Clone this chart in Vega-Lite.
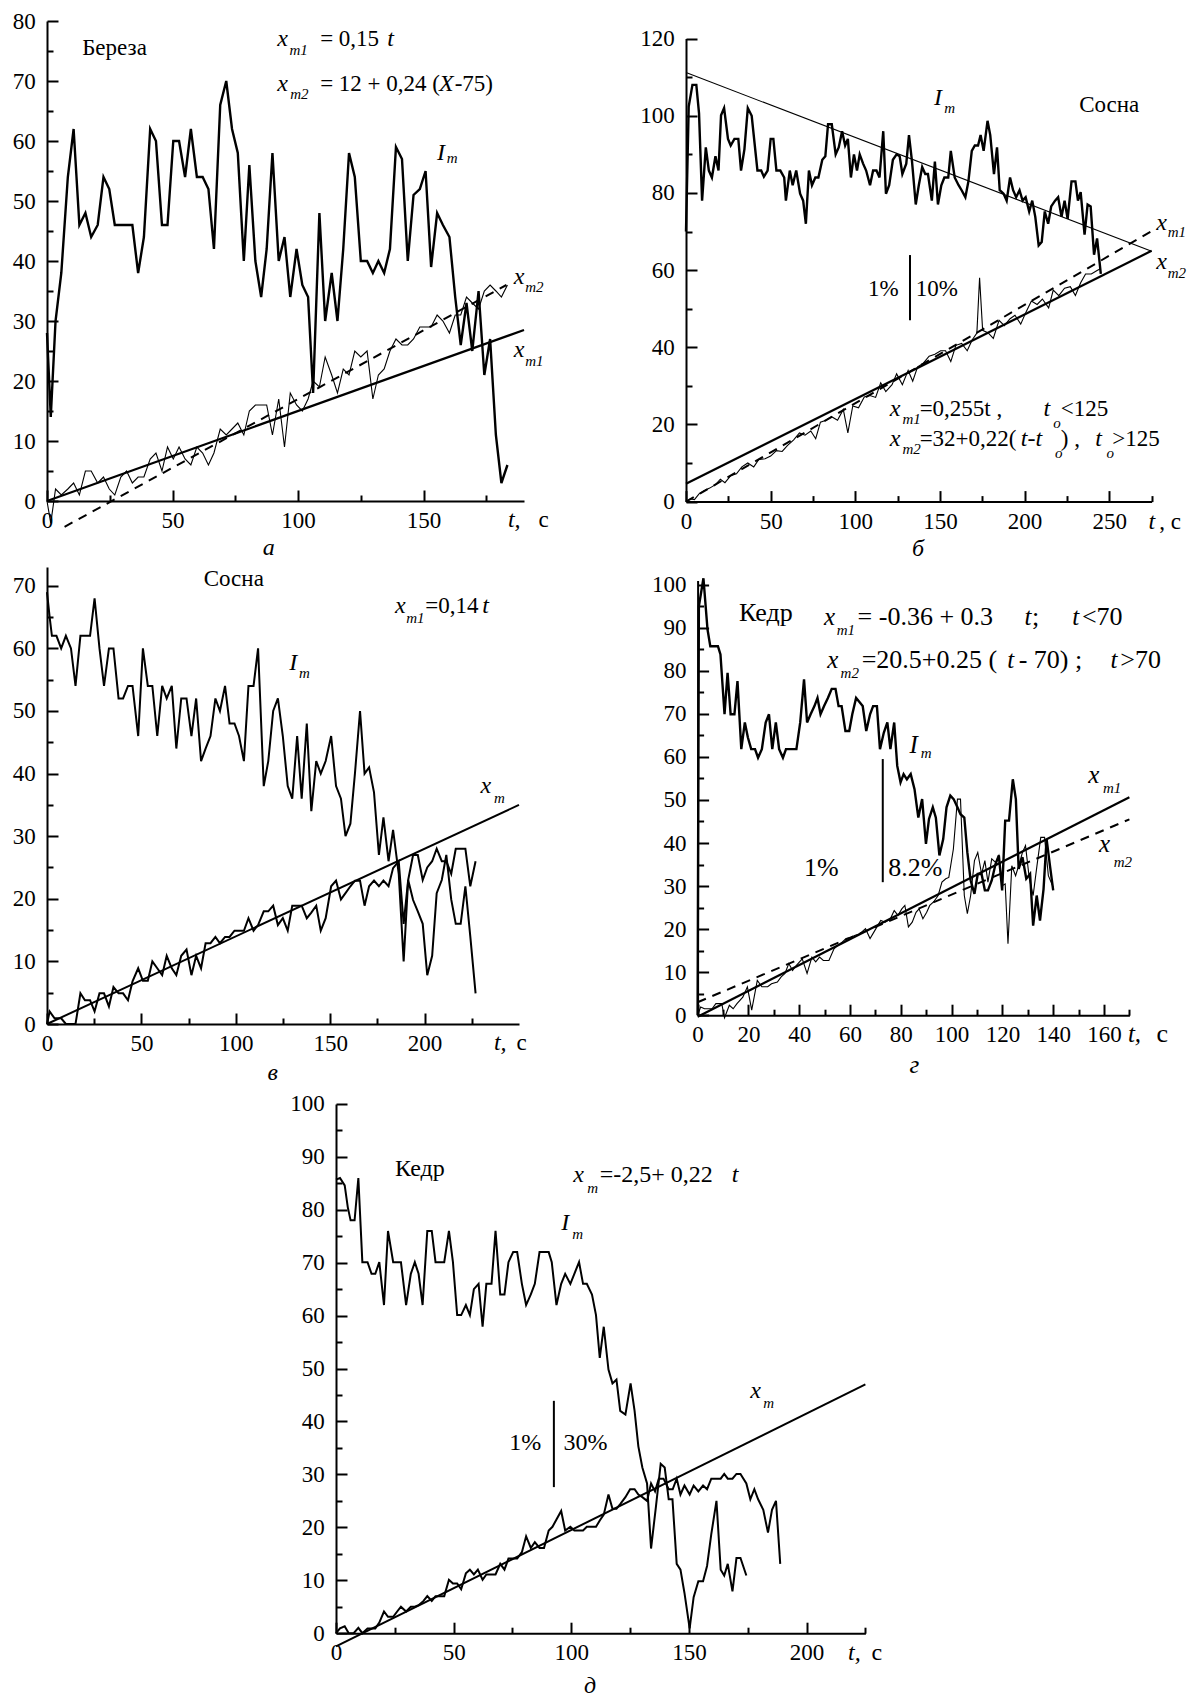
{
"$schema": "https://vega.github.io/schema/vega-lite/v6.json",
"padding": {"left": 12, "top": 10, "right": 5, "bottom": 5},
"config": {
  "view": {"stroke": null},
  "axis": {"domainColor": "black", "domainWidth": 2, "tickColor": "black", "tickWidth": 2, "tickSize": -11, "labelFont": "Liberation Serif", "labelFontSize": 23, "labelColor": "black", "grid": false, "labelFlush": false, "labelOverlap": false, "labelBound": false},
  "axisX": {"labelPadding": 19.6},
  "axisY": {"labelPadding": 22.7},
  "line": {"stroke": "black"},
  "rule": {"stroke": "black"}
},
"columns": 2,
"align": {"row": "each", "column": "none"},
"bounds": "flush",
"spacing": {"row": 65, "column": 0},
"concat": [
{
 "width": 639, "height": 480,
 "resolve": {"axis": {"x": "independent", "y": "independent"}},
 "layer": [
  {"data": {"name": "aI"}, "mark": {"type": "line", "strokeWidth": 2.4},
   "encoding": {"x": {"field": "t", "type": "quantitative", "scale": {"domain": [0, 190], "range": [0, 477], "nice": false, "zero": false}, "axis": {"orient": "bottom", "values": [0, 50, 100, 150], "title": null}},
                "y": {"field": "v", "type": "quantitative", "scale": {"domain": [0, 80], "nice": false, "zero": false}, "axis": {"orient": "left", "values": [0, 10, 20, 30, 40, 50, 60, 70, 80], "title": null}}}},
  {"data": {"name": "aF1"}, "mark": {"type": "line", "strokeWidth": 2.2},
   "encoding": {"x": {"field": "t", "type": "quantitative", "axis": {"orient": "bottom", "values": [25, 75, 125, 175], "labels": false, "domain": false, "tickSize": -6, "title": null}},
                "y": {"field": "v", "type": "quantitative", "axis": {"orient": "left", "values": [5, 15, 25, 35, 45, 55, 65, 75], "labels": false, "domain": false, "tickSize": -6, "title": null}}}},
  {"data": {"name": "aF2"}, "mark": {"type": "line", "strokeWidth": 2, "strokeDash": [9, 7]},
   "encoding": {"x": {"field": "t", "type": "quantitative", "axis": null}, "y": {"field": "v", "type": "quantitative", "axis": null}}},
  {"data": {"name": "aX"}, "mark": {"type": "line", "strokeWidth": 1.1},
   "encoding": {"x": {"field": "t", "type": "quantitative", "axis": null}, "y": {"field": "v", "type": "quantitative", "axis": null}}},
  {"data": {"name": "aTR"}, "mark": {"type": "text", "align": "left", "baseline": "alphabetic", "font": "Liberation Serif", "fontSize": 23, "color": "black"},
   "encoding": {"x": {"field": "t", "type": "quantitative", "axis": null}, "y": {"field": "v", "type": "quantitative", "axis": null}, "text": {"field": "s"}}},
  {"data": {"name": "aTI"}, "mark": {"type": "text", "align": "left", "baseline": "alphabetic", "font": "Liberation Serif", "fontSize": 24, "fontStyle": "italic", "color": "black"},
   "encoding": {"x": {"field": "t", "type": "quantitative", "axis": null}, "y": {"field": "v", "type": "quantitative", "axis": null}, "text": {"field": "s"}}},
  {"data": {"name": "aTS"}, "mark": {"type": "text", "align": "left", "baseline": "alphabetic", "font": "Liberation Serif", "fontSize": 15, "fontStyle": "italic", "color": "black"},
   "encoding": {"x": {"field": "t", "type": "quantitative", "axis": null}, "y": {"field": "v", "type": "quantitative", "axis": null}, "text": {"field": "s"}}}
 ]
},
{
 "width": 465.6, "height": 480.6,
 "resolve": {"axis": {"x": "independent", "y": "independent"}},
 "layer": [
  {"data": {"name": "bI"}, "mark": {"type": "line", "strokeWidth": 2.4},
   "encoding": {"x": {"field": "t", "type": "quantitative", "scale": {"domain": [0, 275], "nice": false, "zero": false}, "axis": {"orient": "bottom", "values": [0, 50, 100, 150, 200, 250], "title": null}},
                "y": {"field": "v", "type": "quantitative", "scale": {"domain": [0, 120], "range": [480.6, 17.6], "nice": false, "zero": false}, "axis": {"orient": "left", "values": [0, 20, 40, 60, 80, 100, 120], "title": null}}}},
  {"data": {"name": "bF2"}, "mark": {"type": "line", "strokeWidth": 2.2},
   "encoding": {"x": {"field": "t", "type": "quantitative", "axis": {"orient": "bottom", "values": [25, 75, 125, 175, 225, 275], "labels": false, "domain": false, "tickSize": -6, "title": null}},
                "y": {"field": "v", "type": "quantitative", "axis": {"orient": "left", "values": [10, 30, 50, 70, 90, 110], "labels": false, "domain": false, "tickSize": -6, "title": null}}}},
  {"data": {"name": "bF1"}, "mark": {"type": "line", "strokeWidth": 2, "strokeDash": [9, 7]},
   "encoding": {"x": {"field": "t", "type": "quantitative", "axis": null}, "y": {"field": "v", "type": "quantitative", "axis": null}}},
  {"data": {"name": "bTr"}, "mark": {"type": "line", "strokeWidth": 1.1},
   "encoding": {"x": {"field": "t", "type": "quantitative", "axis": null}, "y": {"field": "v", "type": "quantitative", "axis": null}}},
  {"data": {"name": "bX"}, "mark": {"type": "line", "strokeWidth": 1.1},
   "encoding": {"x": {"field": "t", "type": "quantitative", "axis": null}, "y": {"field": "v", "type": "quantitative", "axis": null}}},
  {"data": {"name": "bBar"}, "mark": {"type": "rule", "strokeWidth": 2},
   "encoding": {"x": {"field": "t", "type": "quantitative", "axis": null}, "y": {"field": "v", "type": "quantitative", "axis": null}, "y2": {"field": "v2"}}},
  {"data": {"name": "bTR"}, "mark": {"type": "text", "align": "left", "baseline": "alphabetic", "font": "Liberation Serif", "fontSize": 23, "color": "black"},
   "encoding": {"x": {"field": "t", "type": "quantitative", "axis": null}, "y": {"field": "v", "type": "quantitative", "axis": null}, "text": {"field": "s"}}},
  {"data": {"name": "bTI"}, "mark": {"type": "text", "align": "left", "baseline": "alphabetic", "font": "Liberation Serif", "fontSize": 24, "fontStyle": "italic", "color": "black"},
   "encoding": {"x": {"field": "t", "type": "quantitative", "axis": null}, "y": {"field": "v", "type": "quantitative", "axis": null}, "text": {"field": "s"}}},
  {"data": {"name": "bTS"}, "mark": {"type": "text", "align": "left", "baseline": "alphabetic", "font": "Liberation Serif", "fontSize": 15, "fontStyle": "italic", "color": "black"},
   "encoding": {"x": {"field": "t", "type": "quantitative", "axis": null}, "y": {"field": "v", "type": "quantitative", "axis": null}, "text": {"field": "s"}}}
 ]
},
{
 "width": 639, "height": 457,
 "resolve": {"axis": {"x": "independent", "y": "independent"}},
 "layer": [
  {"data": {"name": "cI"}, "mark": {"type": "line", "strokeWidth": 2},
   "encoding": {"x": {"field": "t", "type": "quantitative", "scale": {"domain": [0, 250], "range": [0, 472], "nice": false, "zero": false}, "axis": {"orient": "bottom", "values": [0, 50, 100, 150, 200], "title": null}},
                "y": {"field": "v", "type": "quantitative", "scale": {"domain": [0, 73], "nice": false, "zero": false}, "axis": {"orient": "left", "values": [0, 10, 20, 30, 40, 50, 60, 70], "title": null}}}},
  {"data": {"name": "cF"}, "mark": {"type": "line", "strokeWidth": 2},
   "encoding": {"x": {"field": "t", "type": "quantitative", "axis": {"orient": "bottom", "values": [25, 75, 125, 175, 225], "labels": false, "domain": false, "tickSize": -6, "title": null}},
                "y": {"field": "v", "type": "quantitative", "axis": {"orient": "left", "values": [5, 15, 25, 35, 45, 55, 65], "labels": false, "domain": false, "tickSize": -6, "title": null}}}},
  {"data": {"name": "cX"}, "mark": {"type": "line", "strokeWidth": 2},
   "encoding": {"x": {"field": "t", "type": "quantitative", "axis": null}, "y": {"field": "v", "type": "quantitative", "axis": null}}},
  {"data": {"name": "cTR"}, "mark": {"type": "text", "align": "left", "baseline": "alphabetic", "font": "Liberation Serif", "fontSize": 23, "color": "black"},
   "encoding": {"x": {"field": "t", "type": "quantitative", "axis": null}, "y": {"field": "v", "type": "quantitative", "axis": null}, "text": {"field": "s"}}},
  {"data": {"name": "cTI"}, "mark": {"type": "text", "align": "left", "baseline": "alphabetic", "font": "Liberation Serif", "fontSize": 24, "fontStyle": "italic", "color": "black"},
   "encoding": {"x": {"field": "t", "type": "quantitative", "axis": null}, "y": {"field": "v", "type": "quantitative", "axis": null}, "text": {"field": "s"}}},
  {"data": {"name": "cTS"}, "mark": {"type": "text", "align": "left", "baseline": "alphabetic", "font": "Liberation Serif", "fontSize": 15, "fontStyle": "italic", "color": "black"},
   "encoding": {"x": {"field": "t", "type": "quantitative", "axis": null}, "y": {"field": "v", "type": "quantitative", "axis": null}, "text": {"field": "s"}}}
 ]
},
{
 "width": 443.4, "height": 448.2,
 "resolve": {"axis": {"x": "independent", "y": "independent"}},
 "layer": [
  {"data": {"name": "dI"}, "mark": {"type": "line", "strokeWidth": 2.4},
   "encoding": {"x": {"field": "t", "type": "quantitative", "scale": {"domain": [0, 170], "range": [11.6, 443.4], "nice": false, "zero": false}, "axis": {"orient": "bottom", "values": [0, 20, 40, 60, 80, 100, 120, 140, 160], "title": null}},
                "y": {"field": "v", "type": "quantitative", "scale": {"domain": [0, 101], "range": [448.2, 13.4], "nice": false, "zero": false}, "axis": {"orient": "left", "offset": -11.6, "values": [0, 10, 20, 30, 40, 50, 60, 70, 80, 90, 100], "title": null}}}},
  {"data": {"name": "dF1"}, "mark": {"type": "line", "strokeWidth": 2.2},
   "encoding": {"x": {"field": "t", "type": "quantitative", "axis": {"orient": "bottom", "values": [10, 30, 50, 70, 90, 110, 130, 150, 170], "labels": false, "domain": false, "tickSize": -6, "title": null}},
                "y": {"field": "v", "type": "quantitative", "axis": {"orient": "left", "offset": -11.6, "values": [5, 15, 25, 35, 45, 55, 65, 75, 85, 95], "labels": false, "domain": false, "tickSize": -6, "title": null}}}},
  {"data": {"name": "dF2"}, "mark": {"type": "line", "strokeWidth": 2, "strokeDash": [9, 7]},
   "encoding": {"x": {"field": "t", "type": "quantitative", "axis": null}, "y": {"field": "v", "type": "quantitative", "axis": null}}},
  {"data": {"name": "dX"}, "mark": {"type": "line", "strokeWidth": 1.1},
   "encoding": {"x": {"field": "t", "type": "quantitative", "axis": null}, "y": {"field": "v", "type": "quantitative", "axis": null}}},
  {"data": {"name": "dBar"}, "mark": {"type": "rule", "strokeWidth": 2},
   "encoding": {"x": {"field": "t", "type": "quantitative", "axis": null}, "y": {"field": "v", "type": "quantitative", "axis": null}, "y2": {"field": "v2"}}},
  {"data": {"name": "dTR"}, "mark": {"type": "text", "align": "left", "baseline": "alphabetic", "font": "Liberation Serif", "fontSize": 26, "color": "black"},
   "encoding": {"x": {"field": "t", "type": "quantitative", "axis": null}, "y": {"field": "v", "type": "quantitative", "axis": null}, "text": {"field": "s"}}},
  {"data": {"name": "dTI"}, "mark": {"type": "text", "align": "left", "baseline": "alphabetic", "font": "Liberation Serif", "fontSize": 25, "fontStyle": "italic", "color": "black"},
   "encoding": {"x": {"field": "t", "type": "quantitative", "axis": null}, "y": {"field": "v", "type": "quantitative", "axis": null}, "text": {"field": "s"}}},
  {"data": {"name": "dTS"}, "mark": {"type": "text", "align": "left", "baseline": "alphabetic", "font": "Liberation Serif", "fontSize": 15, "fontStyle": "italic", "color": "black"},
   "encoding": {"x": {"field": "t", "type": "quantitative", "axis": null}, "y": {"field": "v", "type": "quantitative", "axis": null}, "text": {"field": "s"}}}
 ]
},
{
 "width": 639, "height": 544.2,
 "resolve": {"axis": {"x": "independent", "y": "independent"}},
 "layer": [
  {"data": {"name": "eI"}, "mark": {"type": "line", "strokeWidth": 2},
   "encoding": {"x": {"field": "t", "type": "quantitative", "scale": {"domain": [0, 225], "range": [289, 818.4], "nice": false, "zero": false}, "axis": {"orient": "bottom", "values": [0, 50, 100, 150, 200], "title": null}},
                "y": {"field": "v", "type": "quantitative", "scale": {"domain": [0, 100], "range": [544.2, 14.9], "nice": false, "zero": false}, "axis": {"orient": "left", "offset": -289, "values": [0, 10, 20, 30, 40, 50, 60, 70, 80, 90, 100], "title": null}}}},
  {"data": {"name": "eF"}, "mark": {"type": "line", "strokeWidth": 2},
   "encoding": {"x": {"field": "t", "type": "quantitative", "axis": {"orient": "bottom", "values": [25, 75, 125, 175, 225], "labels": false, "domain": false, "tickSize": -6, "title": null}},
                "y": {"field": "v", "type": "quantitative", "axis": {"orient": "left", "offset": -289, "values": [5, 15, 25, 35, 45, 55, 65, 75, 85, 95], "labels": false, "domain": false, "tickSize": -6, "title": null}}}},
  {"data": {"name": "eX"}, "mark": {"type": "line", "strokeWidth": 2},
   "encoding": {"x": {"field": "t", "type": "quantitative", "axis": null}, "y": {"field": "v", "type": "quantitative", "axis": null}}},
  {"data": {"name": "eBar"}, "mark": {"type": "rule", "strokeWidth": 2},
   "encoding": {"x": {"field": "t", "type": "quantitative", "axis": null}, "y": {"field": "v", "type": "quantitative", "axis": null}, "y2": {"field": "v2"}}},
  {"data": {"name": "eTR"}, "mark": {"type": "text", "align": "left", "baseline": "alphabetic", "font": "Liberation Serif", "fontSize": 24, "color": "black"},
   "encoding": {"x": {"field": "t", "type": "quantitative", "axis": null}, "y": {"field": "v", "type": "quantitative", "axis": null}, "text": {"field": "s"}}},
  {"data": {"name": "eTI"}, "mark": {"type": "text", "align": "left", "baseline": "alphabetic", "font": "Liberation Serif", "fontSize": 24, "fontStyle": "italic", "color": "black"},
   "encoding": {"x": {"field": "t", "type": "quantitative", "axis": null}, "y": {"field": "v", "type": "quantitative", "axis": null}, "text": {"field": "s"}}},
  {"data": {"name": "eTS"}, "mark": {"type": "text", "align": "left", "baseline": "alphabetic", "font": "Liberation Serif", "fontSize": 15, "fontStyle": "italic", "color": "black"},
   "encoding": {"x": {"field": "t", "type": "quantitative", "axis": null}, "y": {"field": "v", "type": "quantitative", "axis": null}, "text": {"field": "s"}}}
 ]
}
],
"datasets": {
"aI": [{"t":0,"v":28},{"t":1.5,"v":14},{"t":3.4,"v":30},{"t":5.7,"v":38},{"t":8.3,"v":54},{"t":10.6,"v":62},{"t":12.9,"v":46},{"t":15.3,"v":48},{"t":17.6,"v":44},{"t":20.2,"v":46},{"t":22.5,"v":54},{"t":24.8,"v":52},{"t":27,"v":46},{"t":34,"v":46},{"t":36.3,"v":38},{"t":38.6,"v":44},{"t":41.1,"v":62},{"t":43.4,"v":60},{"t":45.8,"v":46},{"t":48,"v":46},{"t":50.3,"v":60},{"t":52.6,"v":60},{"t":55,"v":54},{"t":57.3,"v":62},{"t":59.7,"v":54},{"t":62,"v":54},{"t":64.3,"v":52},{"t":66.5,"v":42},{"t":69,"v":66},{"t":71.4,"v":70},{"t":73.7,"v":62},{"t":76,"v":58},{"t":78.4,"v":40},{"t":80.6,"v":56},{"t":83,"v":40},{"t":85.3,"v":34},{"t":87.5,"v":42},{"t":89.8,"v":58},{"t":92.3,"v":40},{"t":94.6,"v":44},{"t":96.9,"v":34},{"t":99.4,"v":42},{"t":101.7,"v":36},{"t":104,"v":34},{"t":106,"v":18},{"t":108.5,"v":48},{"t":110.8,"v":30},{"t":113.4,"v":38},{"t":115.7,"v":30},{"t":118,"v":42},{"t":120.3,"v":58},{"t":122.6,"v":54},{"t":125,"v":40},{"t":127.5,"v":40},{"t":129.8,"v":38},{"t":132,"v":40},{"t":134.3,"v":38},{"t":136.6,"v":42},{"t":139,"v":59},{"t":141.4,"v":57},{"t":143.7,"v":40},{"t":146,"v":51},{"t":148.5,"v":52},{"t":150.8,"v":55},{"t":153,"v":39},{"t":155.4,"v":48},{"t":157.7,"v":46},{"t":160.3,"v":44},{"t":162.6,"v":34},{"t":164.8,"v":26},{"t":167.1,"v":33},{"t":169.4,"v":25},{"t":171.9,"v":35},{"t":174.2,"v":21},{"t":176.5,"v":27},{"t":178.8,"v":11},{"t":181,"v":3},{"t":183.4,"v":6}],
"aX": [{"t":0,"v":0},{"t":1.5,"v":-3.7},{"t":3.4,"v":2},{"t":5.7,"v":1},{"t":8.3,"v":2},{"t":10.6,"v":3},{"t":12.9,"v":1},{"t":15.3,"v":5},{"t":17.6,"v":5},{"t":20.2,"v":3},{"t":22.5,"v":4},{"t":24.8,"v":2},{"t":27,"v":1},{"t":29.4,"v":4},{"t":31.7,"v":5},{"t":34,"v":3},{"t":36.3,"v":4},{"t":38.6,"v":4},{"t":41.1,"v":7},{"t":43.4,"v":8},{"t":45.8,"v":5},{"t":48,"v":9},{"t":50.3,"v":7},{"t":52.6,"v":9},{"t":55,"v":7},{"t":57.3,"v":6},{"t":59.7,"v":9},{"t":62,"v":8},{"t":64.3,"v":6},{"t":66.5,"v":8},{"t":69,"v":12},{"t":71.4,"v":11},{"t":73.7,"v":12},{"t":76,"v":13},{"t":78.4,"v":11},{"t":80.6,"v":15},{"t":83,"v":16},{"t":85.3,"v":16},{"t":87.5,"v":16},{"t":89.8,"v":11},{"t":92.3,"v":17},{"t":94.6,"v":9},{"t":96.9,"v":18},{"t":99.4,"v":16},{"t":101.7,"v":15},{"t":104,"v":17},{"t":106,"v":20},{"t":108.5,"v":19},{"t":110.8,"v":24},{"t":113.4,"v":21},{"t":115.7,"v":18},{"t":118,"v":22},{"t":120.3,"v":21},{"t":122.6,"v":25},{"t":125,"v":24},{"t":127.5,"v":25},{"t":129.8,"v":17},{"t":132,"v":21},{"t":134.3,"v":22},{"t":136.6,"v":25},{"t":139,"v":27},{"t":141.4,"v":26},{"t":143.7,"v":26},{"t":146,"v":27},{"t":148.5,"v":29},{"t":150.8,"v":29},{"t":153,"v":29},{"t":155.4,"v":31},{"t":157.7,"v":30},{"t":160.3,"v":28},{"t":162.6,"v":31},{"t":164.8,"v":31},{"t":167.1,"v":34},{"t":169.4,"v":33},{"t":171.9,"v":32},{"t":174.2,"v":35},{"t":176.5,"v":36},{"t":178.8,"v":35},{"t":181,"v":34},{"t":183.4,"v":36}],
"aF1": [{"t":0,"v":0},{"t":190,"v":28.5}],
"aF2": [{"t":7,"v":-4.3},{"t":183,"v":36}],
"aTR": [{"t":14,"v":74.3,"s":"Береза"},{"t":108.8,"v":75.8,"s":"= 0,15"},{"t":108.8,"v":68.4,"s":"= 12 + 0,24 ("},{"t":162.4,"v":68.4,"s":"-75)"},{"t":195.8,"v":-4.3,"s":"с"}],
"aTI": [{"t":91.7,"v":75.8,"s":"x"},{"t":135.5,"v":75.8,"s":"t"},{"t":91.7,"v":68.4,"s":"x"},{"t":156.1,"v":68.4,"s":"X"},{"t":155.3,"v":56.8,"s":"I"},{"t":185.9,"v":36.2,"s":"x"},{"t":185.9,"v":24,"s":"x"},{"t":183.6,"v":-4.3,"s":"t,"},{"t":85.9,"v":-9.05,"s":"а"}],
"aTS": [{"t":96.6,"v":74.4,"s":"m1"},{"t":96.9,"v":67,"s":"m2"},{"t":159.2,"v":56.3,"s":"m"},{"t":190.5,"v":34.8,"s":"m2"},{"t":190.5,"v":22.5,"s":"m1"}],
"bI": [{"t":0,"v":70},{"t":1.6,"v":102.4},{"t":3.8,"v":108},{"t":6.1,"v":108},{"t":7.7,"v":100.6},{"t":9.5,"v":78},{"t":11.7,"v":91.8},{"t":13.5,"v":85.8},{"t":15.3,"v":84},{"t":17.4,"v":89.5},{"t":19.2,"v":85.8},{"t":20.7,"v":100.1},{"t":22.5,"v":102},{"t":24.8,"v":94},{"t":26.4,"v":92.3},{"t":28.6,"v":94},{"t":30.9,"v":94},{"t":32.5,"v":85.8},{"t":34.5,"v":91.3},{"t":36.5,"v":102},{"t":38.8,"v":100},{"t":42.2,"v":85.8},{"t":44.4,"v":85.8},{"t":46,"v":84.2},{"t":48.2,"v":85.8},{"t":50,"v":94},{"t":51.6,"v":94},{"t":53.4,"v":85.8},{"t":55.7,"v":85.8},{"t":58,"v":84},{"t":59,"v":78},{"t":61.3,"v":85.8},{"t":63,"v":82},{"t":65.1,"v":85.8},{"t":67.4,"v":79.8},{"t":69.2,"v":78},{"t":70.8,"v":72},{"t":72.6,"v":85.8},{"t":74.4,"v":82},{"t":76.4,"v":84},{"t":78.2,"v":84},{"t":80.5,"v":88.6},{"t":82.3,"v":89.5},{"t":83.9,"v":97.8},{"t":86.1,"v":97.8},{"t":88.4,"v":90},{"t":90.2,"v":91.8},{"t":92.2,"v":96},{"t":94,"v":92.3},{"t":95.6,"v":94},{"t":97.4,"v":84},{"t":99.2,"v":90},{"t":101,"v":85.8},{"t":102.6,"v":90},{"t":104.6,"v":87.6},{"t":106.4,"v":85.8},{"t":108.7,"v":82},{"t":110.5,"v":85.8},{"t":112.5,"v":85.8},{"t":114.3,"v":84},{"t":116.5,"v":96},{"t":118.1,"v":79.8},{"t":120,"v":82},{"t":122.2,"v":88.6},{"t":124.4,"v":90},{"t":126.2,"v":89.5},{"t":127.8,"v":84.9},{"t":130.1,"v":87.6},{"t":131.7,"v":95},{"t":133.5,"v":88.1},{"t":135.7,"v":77},{"t":137.5,"v":82},{"t":139.5,"v":86.7},{"t":141.3,"v":84.9},{"t":142.9,"v":84.9},{"t":145.2,"v":78},{"t":147,"v":88.1},{"t":148.8,"v":77},{"t":150.8,"v":82},{"t":152.6,"v":84},{"t":154.9,"v":84},{"t":156.4,"v":90.9},{"t":158.7,"v":84},{"t":161,"v":82},{"t":162.8,"v":80.7},{"t":165,"v":78.9},{"t":166.8,"v":83},{"t":168.8,"v":90.9},{"t":170.6,"v":92.3},{"t":172.5,"v":92.3},{"t":174,"v":95},{"t":175.8,"v":90.9},{"t":178.1,"v":98.7},{"t":179.7,"v":95},{"t":181.9,"v":84.9},{"t":183.7,"v":91.8},{"t":185.3,"v":80.7},{"t":187.6,"v":79.8},{"t":189.4,"v":78},{"t":191.4,"v":84},{"t":193.2,"v":80.7},{"t":195,"v":78.9},{"t":197,"v":80.7},{"t":198.8,"v":78},{"t":200.6,"v":78.9},{"t":202.7,"v":75.2},{"t":204.5,"v":78},{"t":206.3,"v":73.8},{"t":208.3,"v":66.4},{"t":210.1,"v":67.3},{"t":211.9,"v":75.2},{"t":213.9,"v":72},{"t":215.7,"v":76.5},{"t":218,"v":78},{"t":219.8,"v":78.9},{"t":221.8,"v":73.8},{"t":223.6,"v":78},{"t":225.4,"v":73.3},{"t":227.7,"v":83},{"t":230,"v":83},{"t":231.5,"v":78},{"t":233.1,"v":80.2},{"t":235.4,"v":69.2},{"t":237.2,"v":77},{"t":239,"v":76.5},{"t":241,"v":64},{"t":242.8,"v":68.2},{"t":245,"v":59}],
"bX": [{"t":0,"v":0},{"t":2.7,"v":0.7},{"t":5,"v":0.5},{"t":7.7,"v":2},{"t":10.6,"v":2.8},{"t":14,"v":3.5},{"t":17.4,"v":4.4},{"t":20.3,"v":5.8},{"t":23,"v":4.9},{"t":26.4,"v":6.7},{"t":29.8,"v":7.2},{"t":33,"v":9},{"t":36.5,"v":10},{"t":40,"v":9},{"t":43,"v":10.9},{"t":46.7,"v":11.1},{"t":50,"v":11.8},{"t":53.4,"v":13.2},{"t":56.8,"v":13},{"t":60,"v":14.6},{"t":63.6,"v":16},{"t":67,"v":17.8},{"t":70.3,"v":17.2},{"t":73.7,"v":18.3},{"t":76.6,"v":16.3},{"t":79.4,"v":20.6},{"t":82.7,"v":21.1},{"t":86,"v":22},{"t":89.5,"v":21.1},{"t":92.9,"v":23.9},{"t":95.6,"v":17.8},{"t":98.5,"v":24.8},{"t":101.9,"v":24.3},{"t":105.3,"v":27.1},{"t":108.7,"v":27.5},{"t":112,"v":27},{"t":115,"v":30.8},{"t":118,"v":28.5},{"t":121.7,"v":30.3},{"t":124.4,"v":33.1},{"t":127.8,"v":30.3},{"t":131.2,"v":34},{"t":133.9,"v":31.2},{"t":136.8,"v":34.9},{"t":140.2,"v":35.9},{"t":143.6,"v":37.7},{"t":147,"v":38.2},{"t":150.4,"v":39.1},{"t":153.3,"v":39.1},{"t":156.4,"v":36.3},{"t":159.4,"v":40.5},{"t":162.8,"v":41},{"t":166.1,"v":39.1},{"t":169,"v":41.9},{"t":171.8,"v":43.7},{"t":173.4,"v":58},{"t":175.2,"v":44.4},{"t":178.5,"v":43.7},{"t":181.5,"v":42.3},{"t":184.9,"v":47},{"t":188,"v":45.6},{"t":191.4,"v":47.4},{"t":194.3,"v":48.3},{"t":197.7,"v":46},{"t":201,"v":49.3},{"t":204,"v":52},{"t":207.4,"v":51.1},{"t":210.5,"v":52.5},{"t":214.2,"v":50.2},{"t":216.9,"v":54.8},{"t":220.2,"v":53.4},{"t":223.6,"v":55.3},{"t":227,"v":55.7},{"t":230,"v":53.4},{"t":233.1,"v":56.7},{"t":236,"v":59},{"t":239.4,"v":59},{"t":242.8,"v":59.9},{"t":245,"v":60.4}],
"bF1": [{"t":0,"v":0},{"t":275,"v":70.1}],
"bF2": [{"t":0,"v":4.6},{"t":275,"v":65}],
"bTr": [{"t":0,"v":111.2},{"t":275,"v":64.9}],
"bBar": [{"t":132.3,"v":47,"v2":63.9}],
"bTR": [{"t":232.2,"v":101,"s":"Сосна"},{"t":107.5,"v":53.4,"s":"1%"},{"t":135.7,"v":53.4,"s":"10%"},{"t":138,"v":22.2,"s":"=0,255t ,"},{"t":221.4,"v":22.2,"s":"<125"},{"t":138,"v":14.4,"s":"=32+0,22("},{"t":221.4,"v":14.4,"s":") ,"},{"t":251.8,"v":14.4,"s":">125"},{"t":279.5,"v":-7.1,"s":", с"}],
"bTI": [{"t":146.5,"v":102.9,"s":"I"},{"t":120.4,"v":22.2,"s":"x"},{"t":211.2,"v":22.2,"s":"t"},{"t":120.4,"v":14.4,"s":"x"},{"t":197.7,"v":14.4,"s":"t-t"},{"t":241.7,"v":14.4,"s":"t"},{"t":277.7,"v":70.5,"s":"x"},{"t":277.7,"v":60.2,"s":"x"},{"t":273.2,"v":-7.1,"s":"t"},{"t":133.5,"v":-14,"s":"б"}],
"bTS": [{"t":152.6,"v":100.6,"s":"m"},{"t":127.8,"v":20.2,"s":"m1"},{"t":216.9,"v":19.2,"s":"o"},{"t":127.8,"v":12.3,"s":"m2"},{"t":218,"v":11.4,"s":"o"},{"t":248.4,"v":11.4,"s":"o"},{"t":284.5,"v":68.7,"s":"m1"},{"t":284.5,"v":58,"s":"m2"}],
"cI": [{"t":0,"v":69},{"t":1.4,"v":65},{"t":2.6,"v":62},{"t":5,"v":62},{"t":7.5,"v":60},{"t":10,"v":62},{"t":12.7,"v":60},{"t":15.1,"v":54},{"t":17.7,"v":62},{"t":20.1,"v":62},{"t":22.8,"v":62},{"t":25.2,"v":68},{"t":27.8,"v":60},{"t":30.2,"v":54},{"t":32.8,"v":60},{"t":35.2,"v":60},{"t":37.9,"v":52},{"t":40.3,"v":52},{"t":42.9,"v":54},{"t":45.3,"v":54},{"t":48.3,"v":46},{"t":50.8,"v":60},{"t":53.4,"v":54},{"t":55.8,"v":54},{"t":58.4,"v":46},{"t":61,"v":54},{"t":63.4,"v":52},{"t":66.1,"v":54},{"t":68.5,"v":44},{"t":71.1,"v":52},{"t":73.9,"v":52},{"t":76.5,"v":46},{"t":79,"v":52},{"t":81.6,"v":42},{"t":84,"v":44},{"t":86.6,"v":46},{"t":89.2,"v":52},{"t":91.6,"v":50},{"t":94.3,"v":54},{"t":96.7,"v":48},{"t":99.3,"v":48},{"t":101.7,"v":46},{"t":104.3,"v":42},{"t":106.7,"v":54},{"t":109.4,"v":54},{"t":111.8,"v":60},{"t":114.8,"v":38},{"t":117.2,"v":42},{"t":119.8,"v":50},{"t":122.3,"v":52},{"t":124.9,"v":46},{"t":127.5,"v":38},{"t":129.9,"v":36},{"t":132.5,"v":46},{"t":134.9,"v":36},{"t":137.6,"v":48},{"t":140,"v":34},{"t":142.6,"v":42},{"t":145,"v":40},{"t":147.6,"v":42},{"t":150.5,"v":46},{"t":153.1,"v":38},{"t":155.7,"v":36},{"t":158.1,"v":30},{"t":160.7,"v":32},{"t":163.1,"v":40},{"t":165.8,"v":50},{"t":168.2,"v":40},{"t":170.6,"v":41},{"t":173.2,"v":37},{"t":175.8,"v":27},{"t":178.2,"v":33},{"t":180.9,"v":26},{"t":183.3,"v":31},{"t":186.3,"v":24},{"t":188.9,"v":10},{"t":191.3,"v":23},{"t":193.9,"v":19.8},{"t":196.4,"v":18},{"t":199,"v":16},{"t":201.4,"v":7.8},{"t":204,"v":10.9},{"t":206.4,"v":20.9},{"t":209.1,"v":23},{"t":211.5,"v":27},{"t":214.1,"v":19.9},{"t":216.5,"v":16},{"t":219.1,"v":16},{"t":221.6,"v":22},{"t":224.2,"v":14},{"t":227,"v":4.9}],
"cX": [{"t":0,"v":0},{"t":1.4,"v":2},{"t":4,"v":0.9},{"t":7.5,"v":0.9},{"t":10,"v":0},{"t":15.1,"v":0},{"t":17.7,"v":4.9},{"t":20.1,"v":3.8},{"t":22.8,"v":3.8},{"t":25.2,"v":2},{"t":27.8,"v":4.9},{"t":30.2,"v":4.9},{"t":32.8,"v":2.8},{"t":35.2,"v":5.9},{"t":37.9,"v":4.9},{"t":40.3,"v":4.9},{"t":42.9,"v":3.8},{"t":45.3,"v":6.8},{"t":48.3,"v":8.9},{"t":50.8,"v":6.9},{"t":53.4,"v":6.9},{"t":55.8,"v":10},{"t":58.4,"v":8.9},{"t":61,"v":7.8},{"t":63.4,"v":10.9},{"t":66.1,"v":8.9},{"t":68.5,"v":7.8},{"t":71.1,"v":10.9},{"t":73.9,"v":11.9},{"t":76.5,"v":7.8},{"t":79,"v":10.9},{"t":81.6,"v":8.9},{"t":84,"v":12.9},{"t":86.6,"v":12.9},{"t":89.2,"v":13.9},{"t":91.6,"v":12.9},{"t":94.3,"v":13.9},{"t":96.7,"v":13.9},{"t":99.3,"v":14.9},{"t":101.7,"v":14.9},{"t":104.3,"v":14.9},{"t":106.7,"v":16.9},{"t":109.4,"v":14.9},{"t":111.8,"v":15.8},{"t":114.8,"v":18},{"t":117.2,"v":18},{"t":119.8,"v":18.9},{"t":122.3,"v":15.8},{"t":124.9,"v":16.9},{"t":127.5,"v":14.9},{"t":129.9,"v":18.9},{"t":132.5,"v":18.9},{"t":134.9,"v":18.9},{"t":137.6,"v":16.9},{"t":140,"v":17.8},{"t":142.6,"v":18.9},{"t":145,"v":14.9},{"t":147.6,"v":16.9},{"t":150.5,"v":22},{"t":153.1,"v":22.9},{"t":155.7,"v":19.9},{"t":158.1,"v":20.9},{"t":160.7,"v":22},{"t":163.1,"v":22.9},{"t":165.8,"v":22.9},{"t":168.2,"v":18.9},{"t":170.6,"v":22},{"t":173.2,"v":22.9},{"t":175.8,"v":22},{"t":178.2,"v":22.9},{"t":180.9,"v":22},{"t":183.3,"v":24.9},{"t":186.3,"v":26},{"t":188.9,"v":16},{"t":191.3,"v":23},{"t":193.9,"v":27},{"t":196.4,"v":27},{"t":199,"v":23},{"t":201.4,"v":25},{"t":204,"v":26},{"t":206.4,"v":28},{"t":209.1,"v":26},{"t":211.5,"v":26},{"t":214.1,"v":24},{"t":216.5,"v":28},{"t":219.1,"v":28},{"t":221.6,"v":28},{"t":224.2,"v":22},{"t":227,"v":26}],
"cF": [{"t":0,"v":0},{"t":250,"v":35}],
"cTR": [{"t":83,"v":70,"s":"Сосна"},{"t":200.4,"v":65.6,"s":"=0,14"},{"t":248.7,"v":-4.2,"s":"с"}],
"cTI": [{"t":184.3,"v":65.6,"s":"x"},{"t":230.6,"v":65.6,"s":"t"},{"t":128.3,"v":56.6,"s":"I"},{"t":229.6,"v":36.9,"s":"x"},{"t":236.7,"v":-4.2,"s":"t,"},{"t":116.8,"v":-9,"s":"в"}],
"cTS": [{"t":190.3,"v":64,"s":"m1"},{"t":133.5,"v":55.2,"s":"m"},{"t":236.7,"v":35.3,"s":"m"}],
"dI": [{"t":0,"v":0},{"t":0.5,"v":95},{"t":2.3,"v":101.5},{"t":3.9,"v":89.6},{"t":5,"v":85.7},{"t":8,"v":85.7},{"t":9,"v":83.8},{"t":10.6,"v":69.9},{"t":11.8,"v":79.5},{"t":13,"v":69.9},{"t":14.5,"v":69.9},{"t":15.7,"v":77.6},{"t":17.2,"v":61.8},{"t":18.6,"v":68},{"t":19.8,"v":64.5},{"t":21.1,"v":61.8},{"t":22.6,"v":61.8},{"t":23.8,"v":59.8},{"t":25.3,"v":61.8},{"t":26.8,"v":68},{"t":28.1,"v":69.9},{"t":29.4,"v":61.8},{"t":30.8,"v":68},{"t":32.1,"v":61.8},{"t":33.6,"v":59.8},{"t":34.8,"v":61.8},{"t":38.9,"v":61.8},{"t":40.4,"v":68},{"t":41.9,"v":78},{"t":43.1,"v":68},{"t":44.5,"v":69.9},{"t":46,"v":71.8},{"t":47.2,"v":73.7},{"t":48.4,"v":69.9},{"t":49.8,"v":71.8},{"t":51.3,"v":73.7},{"t":52.8,"v":75.8},{"t":54.3,"v":75.8},{"t":55.5,"v":71.8},{"t":56.7,"v":71.8},{"t":58.2,"v":66},{"t":59.7,"v":66},{"t":60.9,"v":69.9},{"t":62.4,"v":73.7},{"t":63.8,"v":72.7},{"t":65,"v":71.8},{"t":66.4,"v":66},{"t":67.9,"v":69.9},{"t":69.1,"v":71.8},{"t":70.6,"v":71.8},{"t":71.8,"v":61.8},{"t":73.3,"v":65.6},{"t":74.7,"v":68},{"t":75.9,"v":61.8},{"t":77.4,"v":68},{"t":78.6,"v":57.9},{"t":79.9,"v":54.1},{"t":81.1,"v":56},{"t":82.4,"v":54.8},{"t":83.9,"v":56},{"t":85.4,"v":52.5},{"t":86.9,"v":45.9},{"t":88.4,"v":50.2},{"t":89.9,"v":39.8},{"t":91.1,"v":45.6},{"t":92.6,"v":48.3},{"t":93.8,"v":45.9},{"t":95.2,"v":37.1},{"t":96.7,"v":40.9},{"t":98,"v":48.3},{"t":99.5,"v":51},{"t":100.8,"v":50.2},{"t":102.3,"v":48.3},{"t":103.5,"v":46.7},{"t":105,"v":45.9},{"t":106.2,"v":37.8},{"t":107.5,"v":31.3},{"t":109,"v":28.2},{"t":110.3,"v":32.8},{"t":111.8,"v":32.8},{"t":113.1,"v":29},{"t":114.3,"v":29},{"t":115.8,"v":31.3},{"t":117.3,"v":35.1},{"t":118.6,"v":37.1},{"t":119.9,"v":29},{"t":121.1,"v":45.2},{"t":122.6,"v":45.2},{"t":124.1,"v":54.8},{"t":125.3,"v":50.2},{"t":126.4,"v":34},{"t":127.9,"v":36.7},{"t":129.4,"v":31.7},{"t":130.9,"v":32.8},{"t":132.1,"v":20.8},{"t":133.5,"v":27.8},{"t":134.8,"v":22},{"t":136.2,"v":29.3},{"t":137.4,"v":40.9},{"t":138.8,"v":34.4},{"t":140,"v":29}],
"dX": [{"t":0,"v":0},{"t":1.2,"v":1.9},{"t":2.7,"v":1.5},{"t":5.7,"v":1.5},{"t":7.2,"v":2.7},{"t":9.5,"v":2.7},{"t":10.6,"v":-0.6},{"t":12.5,"v":2.3},{"t":14,"v":1.5},{"t":15.5,"v":2.7},{"t":17.8,"v":4.2},{"t":19.6,"v":6.6},{"t":21.3,"v":1.2},{"t":23.5,"v":8.1},{"t":25.3,"v":6.6},{"t":27.6,"v":6.6},{"t":29.1,"v":7.3},{"t":31.4,"v":7.7},{"t":32.9,"v":8.9},{"t":34.4,"v":9.7},{"t":35.9,"v":12},{"t":37.4,"v":10.4},{"t":38.9,"v":11.6},{"t":41.2,"v":13.1},{"t":43.1,"v":9.7},{"t":45,"v":13.5},{"t":46.5,"v":12.4},{"t":48,"v":13.5},{"t":49.5,"v":12.7},{"t":51.7,"v":12.7},{"t":53.7,"v":15.4},{"t":55.2,"v":16.2},{"t":57,"v":17},{"t":58.5,"v":17.8},{"t":60.5,"v":18.1},{"t":61.8,"v":18.5},{"t":63.8,"v":18.9},{"t":66.1,"v":20.1},{"t":67.9,"v":17.8},{"t":69.8,"v":19.7},{"t":72.1,"v":22},{"t":73.9,"v":21.6},{"t":75.9,"v":22.4},{"t":77.4,"v":24.3},{"t":78.9,"v":23.2},{"t":80.4,"v":24.7},{"t":81.6,"v":25.5},{"t":83,"v":20.5},{"t":84.5,"v":21.6},{"t":86,"v":23.9},{"t":87.2,"v":24.7},{"t":88.7,"v":22.4},{"t":90.2,"v":23.9},{"t":91.4,"v":25.5},{"t":92.9,"v":26.3},{"t":94.7,"v":27.8},{"t":96.2,"v":30.9},{"t":97.7,"v":31.7},{"t":98.9,"v":32},{"t":100.7,"v":38.6},{"t":102.3,"v":50.2},{"t":103.5,"v":50.2},{"t":105,"v":27.8},{"t":106.2,"v":23.6},{"t":107.5,"v":27.8},{"t":109,"v":35.9},{"t":110.3,"v":37.8},{"t":111.8,"v":32.8},{"t":113.1,"v":35.9},{"t":114.3,"v":30.9},{"t":115.8,"v":36.3},{"t":117.3,"v":35.5},{"t":118.6,"v":37.1},{"t":119.9,"v":30.1},{"t":121.1,"v":30.5},{"t":122.2,"v":16.6},{"t":123.7,"v":34.7},{"t":125.2,"v":32.4},{"t":126.4,"v":34.7},{"t":127.9,"v":37.8},{"t":129.1,"v":39.4},{"t":130.6,"v":31.7},{"t":132.1,"v":27.8},{"t":133.6,"v":34.7},{"t":135.1,"v":41.3},{"t":136.6,"v":41.3},{"t":138.1,"v":32.4},{"t":140,"v":29.7}],
"dF1": [{"t":0,"v":-0.36},{"t":170,"v":50.64}],
"dF2": [{"t":0,"v":3},{"t":170,"v":45.5}],
"dBar": [{"t":72.9,"v":30.9,"v2":59.5}],
"dTR": [{"t":16.3,"v":91.5,"s":"Кедр"},{"t":63,"v":90.7,"s":"= -0.36 + 0.3"},{"t":131.7,"v":90.7,"s":";"},{"t":151.3,"v":90.7,"s":"<70"},{"t":64.6,"v":80.7,"s":"=20.5+0.25 ("},{"t":126.4,"v":80.7,"s":"- 70) ;"},{"t":166.4,"v":80.7,"s":">70"},{"t":41.9,"v":32.4,"s":"1%"},{"t":75.1,"v":32.4,"s":"8.2%"},{"t":180.7,"v":-6.2,"s":"с"}],
"dTI": [{"t":49.8,"v":90.7,"s":"x"},{"t":128.7,"v":90.7,"s":"t"},{"t":147.5,"v":90.7,"s":"t"},{"t":51,"v":80.7,"s":"x"},{"t":121.9,"v":80.7,"s":"t"},{"t":162.6,"v":80.7,"s":"t"},{"t":83.4,"v":61,"s":"I"},{"t":153.8,"v":54,"s":"x"},{"t":158,"v":37.8,"s":"x"},{"t":169.4,"v":-6.2,"s":"t,"},{"t":83.4,"v":-13.5,"s":"г"}],
"dTS": [{"t":54.8,"v":88.4,"s":"m1"},{"t":56.3,"v":78.4,"s":"m2"},{"t":87.9,"v":59.8,"s":"m"},{"t":159.6,"v":51.7,"s":"m1"},{"t":163.8,"v":34.4,"s":"m2"}],
"eI": [{"t":0,"v":85.7},{"t":1.7,"v":86},{"t":3.7,"v":84.6},{"t":5,"v":80.5},{"t":6.2,"v":78},{"t":7.9,"v":78},{"t":9.5,"v":86},{"t":11.2,"v":70.1},{"t":13.4,"v":70.1},{"t":15.1,"v":67.9},{"t":16.7,"v":67.9},{"t":18.4,"v":70.1},{"t":20.4,"v":62},{"t":22.1,"v":76},{"t":24.3,"v":70.1},{"t":27.6,"v":70.1},{"t":29.8,"v":62},{"t":31.8,"v":67.9},{"t":33.5,"v":70.1},{"t":35.1,"v":67.9},{"t":36.8,"v":62},{"t":38.8,"v":76},{"t":40.7,"v":76},{"t":42.3,"v":70.1},{"t":46,"v":70.1},{"t":48,"v":76},{"t":49.7,"v":70.1},{"t":51.5,"v":60.1},{"t":53.2,"v":60.1},{"t":55.2,"v":62},{"t":56.9,"v":60.1},{"t":58.6,"v":65},{"t":60.6,"v":66},{"t":62.3,"v":57.9},{"t":63.9,"v":66},{"t":66.1,"v":66},{"t":67.8,"v":76},{"t":69.8,"v":64},{"t":71.6,"v":64},{"t":73.3,"v":70.1},{"t":75.3,"v":72},{"t":77,"v":72},{"t":79,"v":66},{"t":80.8,"v":62},{"t":82.8,"v":64},{"t":84.5,"v":66},{"t":86.5,"v":72},{"t":90.4,"v":72},{"t":91.7,"v":70.1},{"t":93.7,"v":62},{"t":95.7,"v":66},{"t":97.4,"v":67.9},{"t":99.6,"v":66},{"t":101.3,"v":67.9},{"t":103.3,"v":70.1},{"t":105,"v":66},{"t":106.6,"v":66},{"t":108.8,"v":64},{"t":110.5,"v":60.1},{"t":112.1,"v":52},{"t":113.8,"v":57.9},{"t":115.8,"v":49.8},{"t":117.5,"v":47.2},{"t":119.2,"v":47.9},{"t":120.8,"v":42},{"t":123,"v":41.3},{"t":125.2,"v":47.2},{"t":126.9,"v":42},{"t":128.5,"v":35.3},{"t":130.2,"v":31.3},{"t":132.2,"v":28.3},{"t":133.9,"v":16},{"t":136,"v":24},{"t":138,"v":32},{"t":139.7,"v":31.3},{"t":141.4,"v":25.3},{"t":143,"v":25.3},{"t":144.8,"v":13.1},{"t":146.4,"v":12},{"t":148.1,"v":7.6},{"t":150.3,"v":0.9},{"t":152,"v":6.8},{"t":154,"v":9.8},{"t":156,"v":9.8},{"t":157.7,"v":12.7},{"t":159.5,"v":18.7},{"t":161.7,"v":25},{"t":163.5,"v":12},{"t":165,"v":10.9},{"t":166.5,"v":13.1},{"t":168.5,"v":7.9},{"t":170.2,"v":14.2},{"t":171.9,"v":14.2},{"t":174.4,"v":10.9}],
"eX": [{"t":0,"v":0},{"t":1.7,"v":0.9},{"t":3.7,"v":1.3},{"t":5.4,"v":0},{"t":7.5,"v":0},{"t":9.5,"v":1},{"t":11.2,"v":0},{"t":13.4,"v":0.9},{"t":15.1,"v":0.9},{"t":16.7,"v":0.9},{"t":18.4,"v":2},{"t":20.4,"v":4.1},{"t":22.1,"v":3.1},{"t":24.3,"v":3.1},{"t":26,"v":4.1},{"t":27.6,"v":5},{"t":29.8,"v":4.1},{"t":31.8,"v":5},{"t":33.5,"v":5},{"t":35.1,"v":5.3},{"t":37.2,"v":6.1},{"t":38.8,"v":7},{"t":40.7,"v":6.1},{"t":42.3,"v":7},{"t":46,"v":7},{"t":48,"v":10.1},{"t":49.7,"v":9.4},{"t":51.5,"v":9.4},{"t":53.2,"v":8.3},{"t":55.2,"v":11.3},{"t":56.9,"v":12},{"t":58.6,"v":11.1},{"t":60.3,"v":12},{"t":62.3,"v":10.1},{"t":63.9,"v":11.1},{"t":67.8,"v":11.1},{"t":69.8,"v":13.1},{"t":71.6,"v":12},{"t":73.3,"v":14.1},{"t":77,"v":14.1},{"t":79,"v":15.3},{"t":80.8,"v":18.3},{"t":82.8,"v":16.1},{"t":84.5,"v":17.2},{"t":86.5,"v":16.1},{"t":88.4,"v":16.1},{"t":90.4,"v":19.4},{"t":92,"v":20.1},{"t":93.7,"v":21.5},{"t":95.7,"v":23.1},{"t":97.4,"v":19.4},{"t":99.6,"v":20.1},{"t":101.3,"v":19.4},{"t":105,"v":19.4},{"t":106.6,"v":20.1},{"t":110.5,"v":20.1},{"t":112.1,"v":21.3},{"t":113.8,"v":22.4},{"t":115.8,"v":26.2},{"t":117.5,"v":23.5},{"t":119.2,"v":23.5},{"t":120.8,"v":24.4},{"t":123,"v":25.7},{"t":125,"v":27.2},{"t":126.9,"v":27.2},{"t":128.5,"v":26.2},{"t":130.2,"v":25.7},{"t":132.2,"v":25},{"t":133.9,"v":28.3},{"t":135.6,"v":26.8},{"t":137.2,"v":29.2},{"t":139.2,"v":29.2},{"t":141.4,"v":27.2},{"t":143.1,"v":27.2},{"t":144.8,"v":29.2},{"t":146.4,"v":26.2},{"t":148.1,"v":27.9},{"t":150.3,"v":26.2},{"t":152,"v":27.9},{"t":154,"v":26.8},{"t":156,"v":27.9},{"t":157.7,"v":27.2},{"t":159.5,"v":29.2},{"t":161.7,"v":29.2},{"t":163.5,"v":29.2},{"t":165,"v":30.1},{"t":166.5,"v":29.2},{"t":168.5,"v":29.2},{"t":170.2,"v":30.1},{"t":171.9,"v":30.1},{"t":174.4,"v":28.3},{"t":176.1,"v":25.3},{"t":177.8,"v":27.2},{"t":179.4,"v":25.3},{"t":181.6,"v":23.3},{"t":183.6,"v":19},{"t":185.3,"v":23.3},{"t":187,"v":25},{"t":188.8,"v":13.1}],
"eF": [{"t":0,"v":-2.5},{"t":225,"v":47}],
"eBar": [{"t":92.6,"v":27.6,"v2":43.9}],
"eTR": [{"t":25.1,"v":86.4,"s":"Кедр"},{"t":112.1,"v":85.2,"s":"=-2,5+ 0,22"},{"t":73.6,"v":34.6,"s":"1%"},{"t":96.7,"v":34.6,"s":"30%"},{"t":227.6,"v":-5,"s":"с"}],
"eTI": [{"t":100.8,"v":85.2,"s":"x"},{"t":168.2,"v":85.2,"s":"t"},{"t":95.7,"v":76.1,"s":"I"},{"t":176.1,"v":44.4,"s":"x"},{"t":217.6,"v":-5,"s":"t,"},{"t":105.4,"v":-11.3,"s":"д"}],
"eTS": [{"t":106.8,"v":83.1,"s":"m"},{"t":100.4,"v":74.4,"s":"m"},{"t":181.6,"v":42.5,"s":"m"}]
}
}
